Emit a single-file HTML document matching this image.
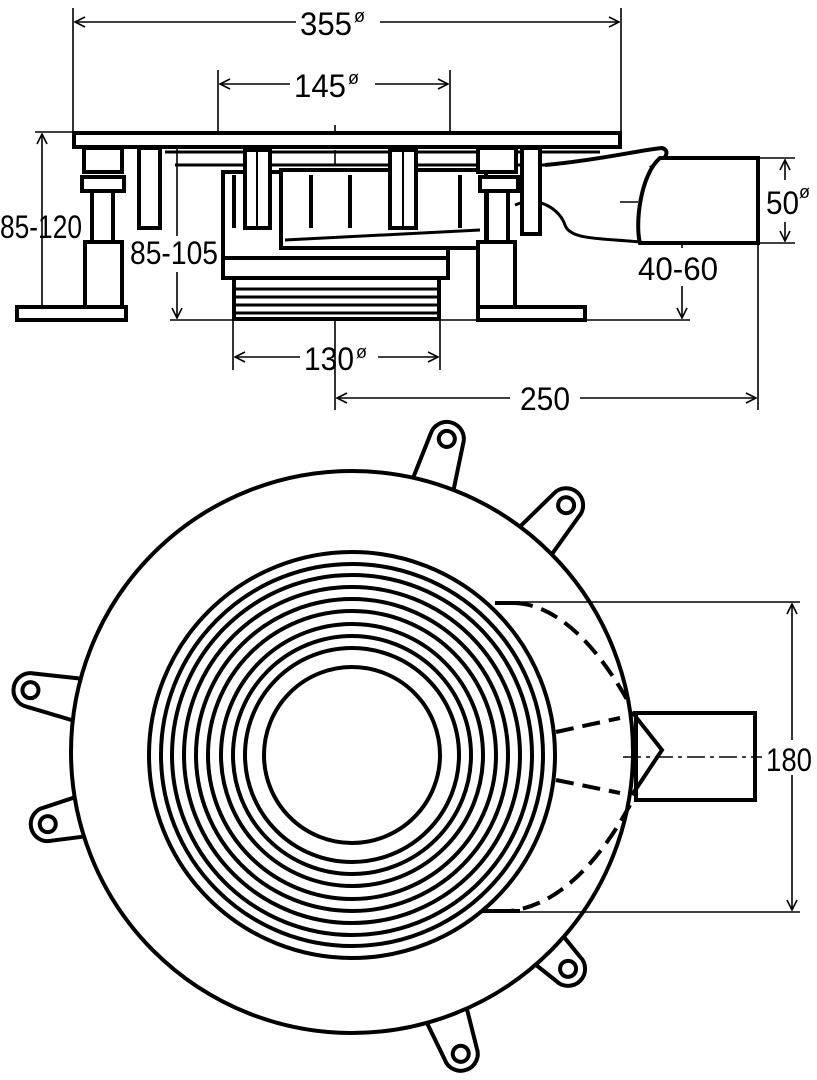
<!DOCTYPE html>
<html><head><meta charset="utf-8"><style>
html,body{margin:0;padding:0;background:#fff}
svg{display:block}
text{font-family:"Liberation Sans",sans-serif;font-size:32px;fill:#000}
</style></head><body>
<svg width="817" height="1080" viewBox="0 0 817 1080" xmlns="http://www.w3.org/2000/svg">
<defs>
<marker id="a" viewBox="0 0 12 12" refX="11" refY="6" markerWidth="12" markerHeight="12" markerUnits="userSpaceOnUse" orient="auto-start-reverse"><path d="M1,1 L11,6 L1,11" fill="none" stroke="#000" stroke-width="1.6"/></marker>
</defs>
<g stroke="#000" fill="none">
<g stroke-width="1.6">
<line x1="73" y1="8" x2="73" y2="132"/><line x1="621" y1="8" x2="621" y2="132"/>
<line x1="75" y1="22" x2="296" y2="22" marker-start="url(#a)"/><line x1="380" y1="22" x2="619" y2="22" marker-end="url(#a)"/>
<line x1="218" y1="70" x2="218" y2="132"/><line x1="450" y1="70" x2="450" y2="132"/>
<line x1="220" y1="84" x2="290" y2="84" marker-start="url(#a)"/><line x1="375" y1="84" x2="448" y2="84" marker-end="url(#a)"/>
<line x1="233" y1="318" x2="233" y2="370"/><line x1="440" y1="318" x2="440" y2="370"/>
<line x1="235" y1="357" x2="300" y2="357" marker-start="url(#a)"/><line x1="378" y1="357" x2="438" y2="357" marker-end="url(#a)"/>
<line x1="335" y1="320" x2="335" y2="410"/><line x1="758" y1="242" x2="758" y2="410"/>
<line x1="337" y1="398" x2="510" y2="398" marker-start="url(#a)"/><line x1="580" y1="398" x2="756" y2="398" marker-end="url(#a)"/>
<line x1="35" y1="132" x2="73" y2="132"/>
<line x1="42" y1="134" x2="42" y2="318" marker-start="url(#a)" marker-end="url(#a)"/>
<line x1="177" y1="134" x2="177" y2="236" marker-start="url(#a)"/><line x1="177" y1="272" x2="177" y2="318" marker-end="url(#a)"/>
<line x1="170" y1="320" x2="690" y2="320"/>
<line x1="758" y1="158" x2="795" y2="158"/><line x1="758" y1="243" x2="795" y2="243"/>
<line x1="785" y1="160" x2="785" y2="180" marker-start="url(#a)"/><line x1="785" y1="222" x2="785" y2="241" marker-end="url(#a)"/>
<line x1="682" y1="203" x2="682" y2="248" marker-start="url(#a)"/><line x1="682" y1="286" x2="682" y2="318" marker-end="url(#a)"/>
<line x1="335" y1="125" x2="335" y2="325" stroke-dasharray="14,4,3,4"/>
<line x1="620" y1="202" x2="757" y2="202" stroke-dasharray="18,5,4,5"/>
</g>
<g stroke-width="4" fill="#fff">
<rect x="74" y="133" width="546" height="14"/>
<rect x="84" y="148" width="38" height="24"/>
<rect x="82" y="177" width="42" height="14"/>
<line x1="92" y1="191" x2="92" y2="242"/><line x1="113" y1="191" x2="113" y2="242"/>
<rect x="85" y="242" width="37" height="65"/>
<rect x="17" y="307" width="109" height="13"/>
<rect x="139" y="148" width="21" height="80"/>
<path d="M165,152 L600,152 M175,165 L545,165" fill="none" stroke-width="3"/>
<rect x="223" y="172" width="225" height="86"/>
<rect x="223" y="258" width="225" height="20"/>
<rect x="234" y="278" width="205" height="41"/>
<path d="M234,289 H439 M234,297 H439 M234,305 H439 M234,313 H439" stroke-width="3"/>
<rect x="281" y="170" width="205" height="78"/>
<line x1="285" y1="240" x2="480" y2="230" stroke-width="3"/>
<rect x="245" y="150" width="25" height="78"/><line x1="257" y1="150" x2="257" y2="228" stroke-width="2"/>
<rect x="390" y="150" width="26" height="78"/><line x1="403" y1="150" x2="403" y2="228" stroke-width="2"/>
<path d="M234,175V228 M311,175V228 M350,175V228 M460,175V228" stroke-width="4"/>
<path d="M545,165 C600,160 640,150 662,148 C670,150 668,160 650,168" fill="#fff"/>
<path d="M515,205 C540,195 560,210 565,225 C570,240 600,238 640,242" fill="none" stroke-width="3"/>
<path d="M640,243 L758,243 L758,158 L660,158 C640,175 635,225 640,243 Z"/>
<rect x="480" y="177" width="38" height="14"/>
<rect x="478" y="148" width="38" height="24"/>
<line x1="487" y1="191" x2="487" y2="242"/><line x1="508" y1="191" x2="508" y2="242"/>
<rect x="478" y="242" width="37" height="65"/>
<rect x="478" y="307" width="107" height="13"/>
<rect x="522" y="148" width="18" height="86"/>
</g>
<g stroke-width="4" fill="#fff">
<g transform="translate(352,755)">
<g transform="rotate(16.7)"><path d="M-24,-250 L-17,-330 A17,17 0 0 1 17,-330 L24,-250 Z"/><circle cx="0" cy="-330" r="8"/></g>
<g transform="rotate(40.6)"><path d="M-24,-250 L-17,-329 A17,17 0 0 1 17,-329 L24,-250 Z"/><circle cx="0" cy="-329" r="8"/></g>
<g transform="rotate(-78.6)"><path d="M-24,-250 L-17,-328 A17,17 0 0 1 17,-328 L24,-250 Z"/><circle cx="0" cy="-328" r="8"/></g>
<g transform="rotate(-102.8)"><path d="M-24,-240 L-17,-312 A17,17 0 0 1 17,-312 L24,-240 Z"/><circle cx="0" cy="-312" r="8"/></g>
<g transform="rotate(134.7)"><path d="M-24,-240 L-17,-304 A17,17 0 0 1 17,-304 L24,-240 Z"/><circle cx="0" cy="-304" r="8"/></g>
<g transform="rotate(160)"><path d="M-24,-250 L-17,-318 A17,17 0 0 1 17,-318 L24,-250 Z"/><circle cx="0" cy="-318" r="8"/></g>
</g>
<rect x="636" y="713" width="119" height="87"/>
<circle cx="352" cy="752" r="281"/>
<path d="M632,712 L662,750 L632,795" fill="none"/>
<g fill="none">
<circle cx="352" cy="755" r="203"/><circle cx="352" cy="755" r="191"/><circle cx="352" cy="755" r="180"/>
<circle cx="352" cy="755" r="168"/><circle cx="352" cy="755" r="156"/><circle cx="352" cy="755" r="144"/>
<circle cx="352" cy="755" r="131"/><circle cx="352" cy="755" r="119"/><circle cx="352" cy="755" r="107"/>
<circle cx="352" cy="755" r="88"/>
</g>
<g fill="none" stroke-dasharray="18,9">
<path d="M515,603 C560,605 600,650 630,705"/>
<path d="M556,732 L620,718"/>
<path d="M556,780 L620,793"/>
<path d="M630,805 C600,860 560,905 510,911"/>
</g>
<path d="M495,603 H520 M482,911 H520" fill="none"/>
</g>
<g stroke-width="1.6">
<line x1="520" y1="602" x2="800" y2="602"/><line x1="520" y1="912" x2="800" y2="912"/>
<line x1="792" y1="604" x2="792" y2="740" marker-start="url(#a)"/><line x1="792" y1="775" x2="792" y2="910" marker-end="url(#a)"/>
<line x1="623" y1="757" x2="762" y2="757" stroke-dasharray="18,5,4,5"/>
</g>
</g>
<g>
<text x="300" y="35" textLength="52" lengthAdjust="spacingAndGlyphs">355</text><text x="354" y="22" style="font-size:18px">ø</text>
<text x="294" y="97" textLength="52" lengthAdjust="spacingAndGlyphs">145</text><text x="348" y="84" style="font-size:18px">ø</text>
<text x="304" y="370" textLength="50" lengthAdjust="spacingAndGlyphs">130</text><text x="356" y="358" style="font-size:18px">ø</text>
<text x="520" y="410" textLength="50" lengthAdjust="spacingAndGlyphs">250</text>
<text x="0" y="238" textLength="82" lengthAdjust="spacingAndGlyphs">85-120</text>
<text x="130" y="264" textLength="88" lengthAdjust="spacingAndGlyphs">85-105</text>
<text x="638" y="280" textLength="80" lengthAdjust="spacingAndGlyphs">40-60</text>
<text x="766" y="214" textLength="33" lengthAdjust="spacingAndGlyphs">50</text><text x="799" y="198" style="font-size:18px">ø</text>
<text x="766" y="771" textLength="46" lengthAdjust="spacingAndGlyphs">180</text>
</g>
</svg>
</body></html>
